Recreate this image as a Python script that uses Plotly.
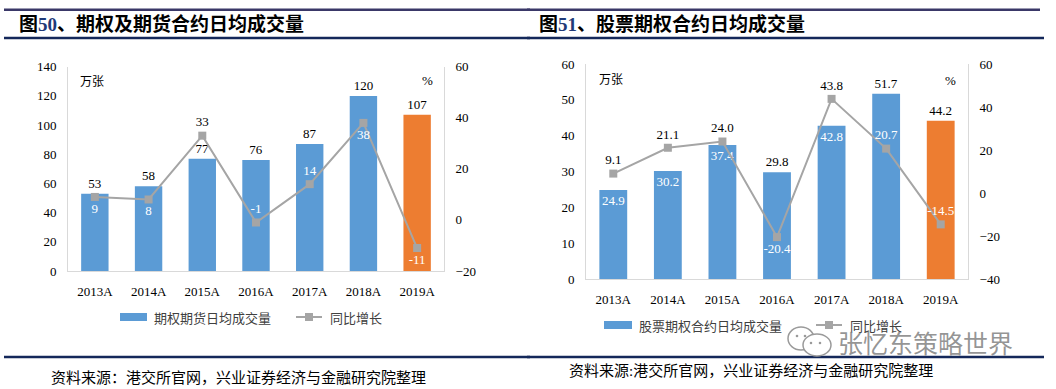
import plotly.graph_objects as go

W, H = 1056, 389

# ---------------- data ----------------
years = ["2013A", "2014A", "2015A", "2016A", "2017A", "2018A", "2019A"]
vol_all = [53, 58, 77, 76, 87, 120, 107]           # 万张
yoy_all = [9, 8, 33, -1, 14, 38, -11]               # %
vol_stock = [24.9, 30.2, 37.4, 29.8, 42.8, 51.7, 44.2]
yoy_stock = [9.1, 21.1, 24.0, -20.4, 43.8, 20.7, -14.5]

title_left_num = "50"
title_left_txt = "、期权及期货合约日均成交量"
title_right_num = "51"
title_right_txt = "、股票期权合约日均成交量"
legend_left = ["期权期货日均成交量", "同比增长"]
legend_right = ["股票期权合约日均成交量", "同比增长"]
source_left = "资料来源：港交所官网，兴业证券经济与金融研究院整理"
source_right = "资料来源:港交所官网，兴业证券经济与金融研究院整理"
watermark = "张忆东策略世界"

BLUE = "#5B9BD5"
ORANGE = "#ED7D31"
GREY = "#A5A5A5"
AXIS = "#D9D9D9"
NAVY = "#14285A"
TOPLINE = "#3A3868"
SERIF = "Liberation Serif, Noto Sans CJK SC"
CJK = "Noto Sans CJK SC"


def fx(x):
    return x / W


def fy(y):
    return 1 - y / H


bar_colors = [BLUE] * 6 + [ORANGE]

fig = go.Figure()

# ---------- left chart ----------
fig.add_trace(go.Bar(
    x=years, y=vol_all, xaxis="x", yaxis="y",
    marker=dict(color=bar_colors, line=dict(width=0)),
    text=[str(v) for v in vol_all], textposition="outside", textangle=0,
    outsidetextfont=dict(family=SERIF, size=13, color="#000000"),
    constraintext="none", cliponaxis=False, showlegend=False, hoverinfo="skip",
))
fig.add_trace(go.Scatter(
    x=years, y=yoy_all, xaxis="x", yaxis="y2",
    mode="lines+markers+text",
    line=dict(color=GREY, width=2),
    marker=dict(symbol="square", size=8, color=GREY),
    text=[str(v) for v in yoy_all],
    textposition=["bottom center", "bottom center", "top center", "top center",
                  "top center", "bottom center", "bottom center"],
    textfont=dict(family=SERIF, size=13,
                  color=["white", "white", "black", "white", "white", "white", "white"]),
    cliponaxis=False, showlegend=False, hoverinfo="skip",
))

# ---------- right chart ----------
fig.add_trace(go.Bar(
    x=years, y=vol_stock, xaxis="x2", yaxis="y3",
    marker=dict(color=bar_colors, line=dict(width=0)),
    text=[f"{v:.1f}" for v in vol_stock],
    textposition=["inside", "inside", "inside", "outside", "inside", "outside", "outside"],
    insidetextanchor="end", textangle=0,
    insidetextfont=dict(family=SERIF, size=13, color="#FFFFFF"),
    outsidetextfont=dict(family=SERIF, size=13, color="#000000"),
    constraintext="none", cliponaxis=False, showlegend=False, hoverinfo="skip",
))
fig.add_trace(go.Scatter(
    x=years, y=yoy_stock, xaxis="x2", yaxis="y4",
    mode="lines+markers+text",
    line=dict(color=GREY, width=2),
    marker=dict(symbol="square", size=8, color=GREY),
    text=[f"{v:.1f}" for v in yoy_stock],
    textposition=["top center", "top center", "top center", "bottom center",
                  "top center", "top center", "top center"],
    textfont=dict(family=SERIF, size=13,
                  color=["black", "black", "black", "white", "black", "white", "white"]),
    cliponaxis=False, showlegend=False, hoverinfo="skip",
))

tickfont = dict(family=SERIF, size=13, color="#000000")
common_y = dict(showgrid=False, zeroline=False, showline=True, linecolor=AXIS,
                linewidth=1, ticks="", tickfont=tickfont, ticklabelstandoff=8,
                automargin=False)
common_x = dict(type="category", showgrid=False, zeroline=False, showline=True,
                linecolor=AXIS, linewidth=1, ticks="", tickfont=tickfont,
                ticklabelstandoff=8, automargin=False)

fig.update_layout(
    width=W, height=H,
    margin=dict(l=0, r=0, t=0, b=0, pad=0, autoexpand=False),
    paper_bgcolor="white", plot_bgcolor="white",
    bargap=0.49,
    xaxis=dict(domain=[fx(68), fx(444)], anchor="y", **common_x),
    yaxis=dict(domain=[fy(271), fy(66.7)], anchor="x", range=[0, 140], dtick=20, **common_y),
    yaxis2=dict(overlaying="y", side="right", anchor="x", range=[-20, 60], dtick=20, **common_y),
    xaxis2=dict(domain=[fx(586), fx(968)], anchor="y3", **common_x),
    yaxis3=dict(domain=[fy(279.3), fy(64)], anchor="x2", range=[0, 60], dtick=10, **common_y),
    yaxis4=dict(overlaying="y3", side="right", anchor="x2", range=[-40, 60], dtick=20, **common_y),
)

shapes = []
ann = []

# title rules and source rules
for (x0, x1, x1b) in [(4, 530, 530), (527, 1040, 1044)]:
    shapes.append(dict(type="rect", xref="paper", yref="paper", layer="above",
                       x0=fx(x0), x1=fx(x1), y0=fy(11), y1=fy(8.5),
                       fillcolor=TOPLINE, line=dict(width=0)))
    shapes.append(dict(type="line", xref="paper", yref="paper", layer="above",
                       x0=fx(x0), x1=fx(x1b), y0=fy(38), y1=fy(38),
                       line=dict(color=NAVY, width=2.5)))
    shapes.append(dict(type="line", xref="paper", yref="paper", layer="above",
                       x0=fx(x0), x1=fx(x1b), y0=fy(357), y1=fy(357),
                       line=dict(color=NAVY, width=2.5)))

# titles (number in dark blue)
ann.append(dict(text=f"<b>图<span style='color:#1F3A78'>{title_left_num}</span>{title_left_txt}</b>",
                x=fx(17), y=fy(24), xanchor="left", yanchor="middle",
                font=dict(family=SERIF, size=19, color="#000000")))
ann.append(dict(text=f"<b>图<span style='color:#1F3A78'>{title_right_num}</span>{title_right_txt}</b>",
                x=fx(537), y=fy(24), xanchor="left", yanchor="middle",
                font=dict(family=SERIF, size=19, color="#000000")))

# sources
ann.append(dict(text=source_left, x=fx(49), y=fy(377), xanchor="left", yanchor="middle",
                font=dict(family=SERIF, size=15, color="#000000")))
ann.append(dict(text=source_right, x=fx(567), y=fy(370), xanchor="left", yanchor="middle",
                font=dict(family=SERIF, size=15, color="#000000")))

# unit labels
ann.append(dict(text="万张", x=fx(78), y=fy(80), xanchor="left", yanchor="middle",
                font=dict(family=CJK, size=12, color="#000000")))
ann.append(dict(text="%", x=fx(427), y=fy(81), xanchor="center", yanchor="middle",
                font=dict(family=SERIF, size=13, color="#000000")))
ann.append(dict(text="万张", x=fx(597), y=fy(78), xanchor="left", yanchor="middle",
                font=dict(family=CJK, size=12, color="#000000")))
ann.append(dict(text="%", x=fx(950), y=fy(80), xanchor="center", yanchor="middle",
                font=dict(family=SERIF, size=13, color="#000000")))


# legends (manual)
def legend(rx0, rx1, ry, txt1, lx0, lx1, txt2):
    shapes.append(dict(type="rect", xref="paper", yref="paper", x0=fx(rx0), x1=fx(rx1),
                       y0=fy(ry + 4), y1=fy(ry - 4), fillcolor=BLUE, line=dict(width=0)))
    ann.append(dict(text=txt1, x=fx(rx1 + 5), y=fy(ry), xanchor="left", yanchor="middle",
                    font=dict(family=CJK, size=13, color="#404040")))
    shapes.append(dict(type="line", xref="paper", yref="paper", x0=fx(lx0), x1=fx(lx1),
                       y0=fy(ry), y1=fy(ry), line=dict(color=GREY, width=2)))
    cx = (lx0 + lx1) / 2
    shapes.append(dict(type="rect", xref="paper", yref="paper", x0=fx(cx - 4), x1=fx(cx + 4),
                       y0=fy(ry + 4), y1=fy(ry - 4), fillcolor=GREY, line=dict(width=0)))
    ann.append(dict(text=txt2, x=fx(lx1 + 6), y=fy(ry), xanchor="left", yanchor="middle",
                    font=dict(family=CJK, size=13, color="#404040")))


legend(120, 147, 317, legend_left[0], 296, 322, legend_left[1])
legend(604, 632, 325, legend_right[0], 816, 842, legend_right[1])

# watermark
shapes.append(dict(type="circle", xref="paper", yref="paper", x0=fx(788), x1=fx(814),
                   y0=fy(350), y1=fy(327), line=dict(color="#9A9A9A", width=1.5)))
shapes.append(dict(type="circle", xref="paper", yref="paper", x0=fx(803), x1=fx(831),
                   y0=fy(356), y1=fy(334), fillcolor="white", line=dict(color="#9A9A9A", width=1.5)))
for (cx, cy) in [(797, 336), (805, 336), (811, 343), (820, 343)]:
    shapes.append(dict(type="circle", xref="paper", yref="paper", x0=fx(cx - 1.3), x1=fx(cx + 1.3),
                       y0=fy(cy + 1.3), y1=fy(cy - 1.3), fillcolor="#9A9A9A", line=dict(width=0)))
ann.append(dict(text=watermark, x=fx(836), y=fy(342), xanchor="left", yanchor="middle",
                font=dict(family=CJK, size=25, color="rgba(130,130,130,0.85)")))

for a in ann:
    a.update(xref="paper", yref="paper", showarrow=False)

fig.update_layout(shapes=shapes, annotations=ann, hovermode=False)

fig.write_html(
    "out.html",
    config={"displayModeBar": False},
    post_script="document.body.style.margin='0';document.body.style.overflow='hidden';"
                "window.scrollTo(0,0);",
)
